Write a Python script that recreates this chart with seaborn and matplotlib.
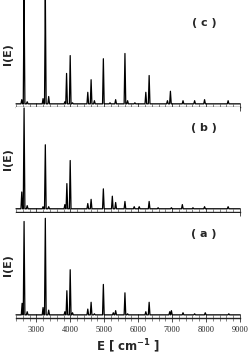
import numpy as np
import pandas as pd
import matplotlib
matplotlib.use("Agg")
import matplotlib.pyplot as plt
from matplotlib.ticker import MultipleLocator
import seaborn as sns

# peak positions (cm^-1) and heights (fraction of panel height)
peaks_a_E = [2580, 2638, 2730, 3197, 3264, 3363, 3840, 3899, 3997, 4065,
             4515, 4613, 4710, 4974, 5267, 5336, 5610, 5688, 5903, 6225,
             6323, 6930, 6979, 7321, 7663, 7976, 8670]
peaks_a_I = [0.14, 0.92, 0.06, 0.10, 0.95, 0.075, 0.06, 0.26, 0.46, 0.05,
             0.085, 0.15, 0.04, 0.32, 0.05, 0.07, 0.24, 0.04, 0.03, 0.06,
             0.15, 0.06, 0.07, 0.05, 0.04, 0.05, 0.04]

peaks_b_E = [2570, 2638, 2730, 3197, 3264, 3363, 3840, 3899, 3997,
             4515, 4613, 4974, 5238, 5336, 5610, 5883, 6030, 6323,
             6587, 6979, 7301, 7614, 7956, 8650]
peaks_b_I = [0.19, 0.99, 0.06, 0.05, 0.64, 0.05, 0.07, 0.27, 0.49,
             0.08, 0.12, 0.22, 0.15, 0.09, 0.10, 0.05, 0.05, 0.10,
             0.04, 0.04, 0.07, 0.04, 0.05, 0.05]

peaks_c_E = [2570, 2638, 2730, 3197, 3264, 3363, 3704, 3840, 3890, 3997, 4065,
             4515, 4613, 4710, 4974, 5170, 5336, 5610, 5688, 5903, 6225,
             6323, 6862, 6950, 7321, 7663, 7956, 8650]
peaks_c_I = [0.07, 1.10, 0.05, 0.08, 1.10, 0.10, 0.03, 0.05, 0.32, 0.49, 0.04,
             0.14, 0.26, 0.06, 0.46, 0.04, 0.07, 0.51, 0.06, 0.04, 0.14,
             0.30, 0.06, 0.15, 0.06, 0.06, 0.07, 0.06]

panel_labels = ["( c )", "( b )", "( a )"]
x_ticks = [3000, 4000, 5000, 6000, 7000, 8000, 9000]
E_min, E_max = 2400, 9000
baseline = 0.03
half_width = 24


def trace(E, I):
    xs = [E_min]
    ys = [baseline]
    for e, h in sorted(zip(E, I)):
        xs += [e - half_width, e, e + half_width]
        ys += [baseline, h, baseline]
    xs.append(E_max)
    ys.append(baseline)
    return pd.DataFrame({"E": xs, "I": ys})


spectra = [trace(peaks_c_E, peaks_c_I),
           trace(peaks_b_E, peaks_b_I),
           trace(peaks_a_E, peaks_a_I)]

sns.set_style("ticks")
plt.rcParams["font.family"] = ["DejaVu Sans"]

fig = plt.figure(figsize=(2.5, 3.55), dpi=100)
left, width = 0.064, 0.896
bottoms = [0.6986, 0.403, 0.1042]
h = 0.2956

for i, (df, lab) in enumerate(zip(spectra, panel_labels)):
    ax = fig.add_axes([left, bottoms[i], width, h])
    sns.lineplot(data=df, x="E", y="I", ax=ax, color="black", lw=0.9,
                 estimator=None, sort=False)
    for ln in ax.get_lines():
        ln.set_clip_on(False)
    ax.set_xlim(E_min, E_max)
    ax.set_ylim(0, 1)
    for s in ["left", "right", "top"]:
        ax.spines[s].set_visible(False)
    ax.spines["bottom"].set_linewidth(1.0)
    ax.spines["bottom"].set_color("#222222")
    ax.set_yticks([])
    ax.xaxis.set_major_locator(MultipleLocator(1000))
    ax.xaxis.set_minor_locator(MultipleLocator(200))
    ax.tick_params(axis="x", which="major", direction="inout", length=6,
                   width=0.6, color="#333333", pad=3)
    ax.tick_params(axis="x", which="minor", direction="inout", length=4.5,
                   width=0.5, color="#555555")
    ax.set_ylabel("I(E)", fontsize=8, fontweight="bold", labelpad=2)
    ax.text(0.84, 0.8, lab, transform=ax.transAxes, fontsize=8,
            fontweight="bold", ha="center", va="center")
    if i < 2:
        ax.set_xticklabels([])
        ax.set_xlabel("")
    else:
        ax.set_xticks(x_ticks)
        ax.set_xticklabels([str(t) for t in x_ticks],
                           family=["Liberation Serif"], fontsize=6)
        ax.set_xlabel("E [ cm$^{\\mathbf{-1}}$ ]", fontsize=8.5,
                      fontweight="bold", labelpad=2)

fig.savefig("out.png", dpi=100)
